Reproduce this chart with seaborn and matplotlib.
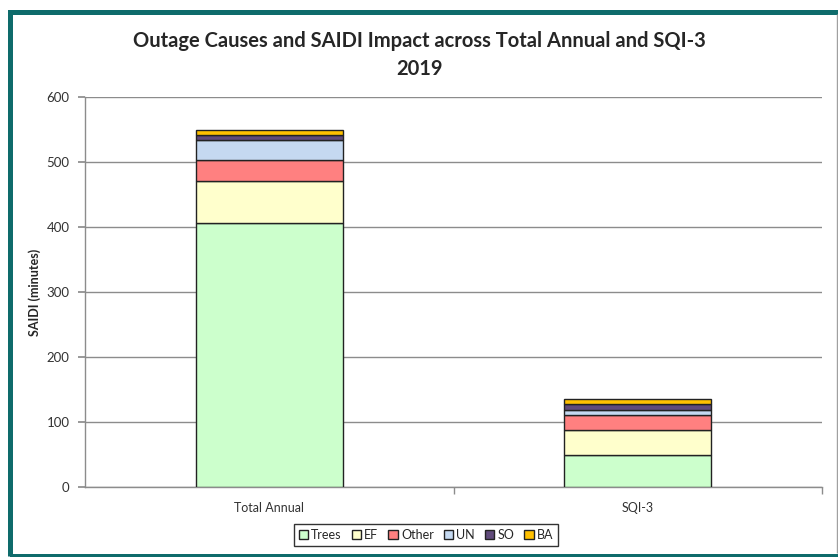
import numpy as np
import pandas as pd
import matplotlib
matplotlib.use("Agg")
import matplotlib.pyplot as plt
import seaborn as sns
from matplotlib.patches import Rectangle, Patch


categories = ["Total Annual", "SQI-3"]
causes = ["Trees", "EF", "Other", "UN", "SO", "BA"]
trees = [406, 49]
ef = [64, 39]
other = [33, 23]
un = [31, 8]
so = [8, 9]
ba = [7, 7]
colors = ["#CCFFCC", "#FFFFCC", "#FF8080", "#C5D9F1", "#604A7B", "#FFC000"]

sns.set_theme(style="white")
plt.rcParams["font.family"] = ["Lato", "DejaVu Sans"]

fig = plt.figure(figsize=(8.38, 5.57), dpi=100)
ax = fig.add_axes([85 / 838, 1 - 487 / 557, 737 / 838, 390 / 557])

# stacked bars, layer by layer
bottom = np.zeros(len(categories))
for name, vals, col in zip(causes, [trees, ef, other, un, so, ba], colors):
    df = pd.DataFrame({"cat": categories, "val": vals})
    sns.barplot(data=df, x="cat", y="val", bottom=bottom, color=col,
                width=0.4, edgecolor="#222222", linewidth=1.0,
                saturation=1, ax=ax, zorder=3)
    bottom = bottom + np.array(vals)

ax.set_ylim(0, 600)
ax.set_xlim(-0.5, 1.5)
ax.set_yticks(range(0, 601, 100))
ax.yaxis.grid(True, color="#8c8c8c", linewidth=1.0)
ax.set_axisbelow(True)
for side in ["top", "right"]:
    ax.spines[side].set_visible(False)
for side in ["left", "bottom"]:
    ax.spines[side].set_color("#8c8c8c")
    ax.spines[side].set_linewidth(1.0)

ax.tick_params(axis="y", left=True, length=5, color="#8c8c8c",
               labelsize=9.5, labelcolor="#333333", pad=6)
ax.tick_params(axis="x", bottom=False, labelsize=9, labelcolor="#333333", pad=5)
# tick marks between categories
ax.set_xticks([0, 1], minor=False)
ax.set_xticks([0.5, 1.5], minor=True)
ax.tick_params(axis="x", which="minor", bottom=True, length=5, color="#8c8c8c")
ax.set_xlabel("")
ax.set_ylabel("SAIDI (minutes)", fontsize=9, fontweight="bold", labelpad=0)
ax.yaxis.set_label_coords(-44 / 737, 0.5)

fig.text(0.5, 1 - 55 / 557,
         "Outage Causes and SAIDI Impact across Total Annual and SQI-3\n2019",
         ha="center", va="center", fontsize=14.5, fontweight="bold",
         linespacing=1.45)

handles = [Patch(facecolor=c, edgecolor="#222222", linewidth=1.0) for c in colors]
leg = fig.legend(handles, causes, loc="center",
                 bbox_to_anchor=(426 / 838, 1 - 535 / 557), ncol=6,
                 fontsize=9, frameon=True, fancybox=False, handlelength=0.75,
                 handleheight=0.75, handletextpad=0.25, columnspacing=0.8,
                 borderpad=0.4)
leg.get_frame().set_edgecolor("black")
leg.get_frame().set_linewidth(1.0)

# chart border
fig.patches.append(Rectangle((9.7 / 838, 1.5 / 557), 1.2, 1 - 13 / 557,
                             transform=fig.transFigure, fill=False,
                             edgecolor="#0E6B6B", linewidth=3.6, zorder=0))
fig.patches.append(Rectangle((836.5 / 838, 4 / 557), 0.001, 1 - 18 / 557,
                             transform=fig.transFigure, fill=False,
                             edgecolor="#a0a0a0", linewidth=1.0, zorder=0))

fig.savefig("out.png", dpi=100)
